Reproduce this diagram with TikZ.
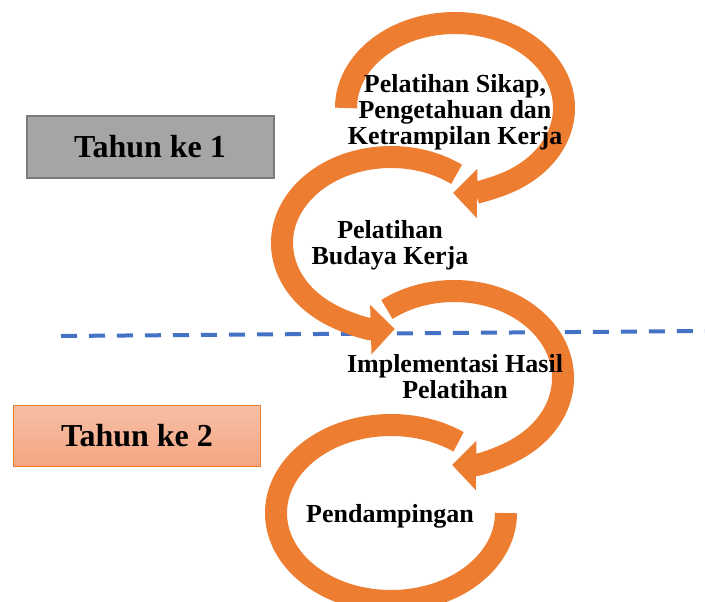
\documentclass[tikz,border=0pt]{standalone}
\usepackage{fontspec}
\setmainfont{Liberation Serif}
\usetikzlibrary{arrows.meta,calc}

\definecolor{arcorange}{HTML}{ED7D31}
\definecolor{dashblue}{HTML}{4472C4}
\definecolor{boxgray}{HTML}{A5A5A5}
\definecolor{boxedge}{HTML}{7B7B7B}
\definecolor{salmontop}{HTML}{F7BFA5}
\definecolor{salmonbot}{HTML}{F4A683}

\begin{document}
\begin{tikzpicture}[x=1pt,y=1pt,
		ring/.style={draw=arcorange,line width=22pt},
		headed/.style={-{Triangle[width=48pt,length=24pt]}},
		steptext/.style={align=center,inner sep=0pt,
			font={\fontsize{26}{26}\selectfont\bfseries}},
		yearbox/.style={minimum width=247pt,minimum height=61pt,inner sep=0pt,
			font={\fontsize{32}{32}\selectfont\bfseries}},
		divider/.style={draw=dashblue,line width=4pt,dash pattern=on 16pt off 12pt}]

		\useasboundingbox (0,0) rectangle (705,-602);

		\coordinate (dl) at (61,-336);
		\coordinate (dr) at (705,-331);
		\draw[divider] (dl) -- (dr);

		\node[yearbox,fill=boxgray,draw=boxedge,line width=2pt] (tahun1) at (150,-147) {Tahun ke 1};
		\node[yearbox,top color=salmontop,bottom color=salmonbot,draw=arcorange,line width=1pt] (tahun2) at (137,-435.5) {Tahun ke 2};

		\coordinate (o1) at (455,-108);
		\coordinate (o2) at (391,-243);
		\coordinate (o3) at (454,-378);
		\coordinate (o4) at (391,-513);

		\draw[ring,headed] ($ (o1) + (180:109pt and 85pt) $) arc[start angle=180,end angle=-91,x radius=109pt,y radius=85pt];
		\draw[ring,headed] ($ (o2) + (53:109pt and 86pt) $) arc[start angle=53,end angle=272,x radius=109pt,y radius=86pt];
		\draw[ring,headed] ($ (o3) + (128:109pt and 87pt) $) arc[start angle=128,end angle=-91,x radius=109pt,y radius=87pt];
		\draw[ring] ($ (o4) + (54:115pt and 88pt) $) arc[start angle=54,end angle=360,x radius=115pt,y radius=88pt];

		\node[steptext] (sikap) at (455,-112) {Pelatihan Sikap,\\Pengetahuan dan\\Ketrampilan Kerja};
		\node[steptext] (budaya) at (390,-245) {Pelatihan\\Budaya Kerja};
		\node[steptext] (hasil) at (455,-377) {Implementasi Hasil\\Pelatihan};
		\node[steptext] (damping) at (390,-516) {Pendampingan};

\end{tikzpicture}
\end{document}
